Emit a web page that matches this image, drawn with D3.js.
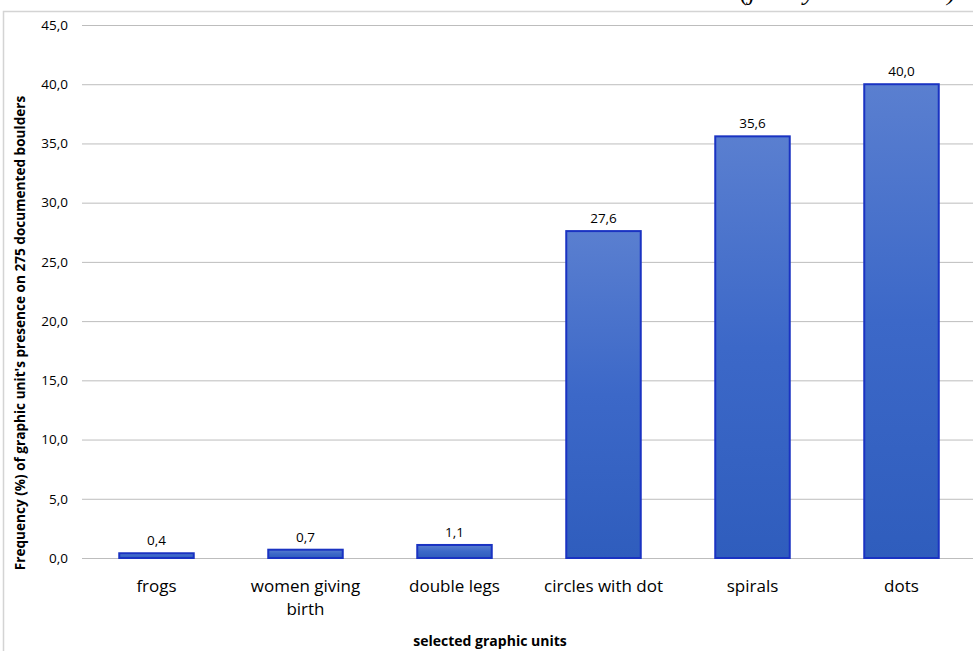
<!DOCTYPE html>
<html>
<head>
<meta charset="utf-8">
<script src="https://cdn.jsdelivr.net/npm/d3@7"></script>
<style>
  html, body { margin: 0; padding: 0; background: #fff; overflow: hidden; }
  svg { display: block; }
  text { font-family: "Open Sans", "Liberation Sans", sans-serif; fill: #000; }
</style>
</head>
<body>
<svg id="chart" width="973" height="651"></svg>
<script>
// Share of the 275 documented boulders carrying each graphic unit (%)
const categories = ["frogs", "women giving birth", "double legs", "circles with dot", "spirals", "dots"];
const values = [0.4, 0.7, 1.1, 27.6, 35.6, 40.0];
const yTicks = [0, 5, 10, 15, 20, 25, 30, 35, 40, 45];

const svg = d3.select("#chart");
const W = 973, H = 651;
const margin = { left: 82, right: -3, top: 25, bottom: 93 };

const fmt = v => d3.format(".1f")(v).replace(".", ",");

// Outer chart frame (runs past the right and bottom edges)
svg.append("rect")
  .attr("x", 3.5).attr("y", 11.5)
  .attr("width", 1100).attr("height", 800)
  .attr("fill", "none").attr("stroke", "#d4d4d4").attr("stroke-width", 1.5);

// Caption sitting above the frame, mostly beyond the top edge
svg.append("text")
  .attr("x", 740).attr("y", 0)
  .style("font-family", "'Liberation Serif', serif")
  .style("font-style", "italic")
  .style("font-size", "26px")
  .text("(jointly documented)");

const x = d3.scaleBand()
  .domain(categories)
  .range([margin.left, W - margin.right])
  .paddingInner(0.5).paddingOuter(0.25);

const y = d3.scaleLinear()
  .domain([0, 45])
  .range([H - margin.bottom, margin.top]);

// Gradient fill for the bars
const defs = svg.append("defs");
const grad = defs.append("linearGradient")
  .attr("id", "barFill").attr("x1", 0).attr("y1", 0).attr("x2", 0).attr("y2", 1);
grad.append("stop").attr("offset", "0%").attr("stop-color", "#5a7fd0");
grad.append("stop").attr("offset", "50%").attr("stop-color", "#3c68c8");
grad.append("stop").attr("offset", "100%").attr("stop-color", "#2f5dbd");

// Horizontal gridlines + tick labels
const yAxis = d3.axisLeft(y)
  .tickValues(yTicks)
  .tickSize(-(W - margin.left + 10))
  .tickFormat(fmt);

const gy = svg.append("g")
  .attr("transform", `translate(${margin.left},0)`)
  .call(yAxis);
gy.select(".domain").remove();
gy.selectAll(".tick line").attr("stroke", "#bdbdbd").attr("stroke-width", 1);
gy.selectAll(".tick text")
  .attr("x", -14)
  .style("font-size", "13.5px")
  .style("font-family", "'Open Sans', sans-serif")
  .attr("fill", "#111");

// Bars
svg.append("g").selectAll("rect")
  .data(categories)
  .join("rect")
  .attr("x", d => x(d))
  .attr("y", (d, i) => y(values[i]))
  .attr("width", x.bandwidth())
  .attr("height", (d, i) => y(0) - y(values[i]))
  .attr("fill", "url(#barFill)")
  .attr("stroke", "#1a33c2")
  .attr("stroke-width", 2);

// Value labels
svg.append("g").selectAll("text")
  .data(categories)
  .join("text")
  .attr("x", d => x(d) + x.bandwidth() / 2)
  .attr("y", (d, i) => y(values[i]) - 8)
  .attr("text-anchor", "middle")
  .style("font-size", "13.5px")
  .text((d, i) => fmt(values[i]));

// Category labels (wrapped where the long one breaks)
const catLines = {
  "women giving birth": ["women giving", "birth"]
};
const xl = svg.append("g");
categories.forEach(c => {
  const lines = catLines[c] || [c];
  const t = xl.append("text")
    .attr("text-anchor", "middle")
    .style("font-size", "17px");
  lines.forEach((ln, k) => {
    t.append("tspan")
      .attr("x", x(c) + x.bandwidth() / 2)
      .attr("y", 592 + k * 23)
      .text(ln);
  });
});

// Axis titles
svg.append("text")
  .attr("transform", `translate(25,333) rotate(-90)`)
  .attr("text-anchor", "middle")
  .style("font-size", "13.6px")
  .style("font-weight", "bold")
  .text("Frequency (%) of graphic unit's presence on 275 documented boulders");

svg.append("text")
  .attr("x", 490).attr("y", 646)
  .attr("text-anchor", "middle")
  .style("font-size", "14px")
  .style("font-weight", "bold")
  .text("selected graphic units");
</script>
</body>
</html>
